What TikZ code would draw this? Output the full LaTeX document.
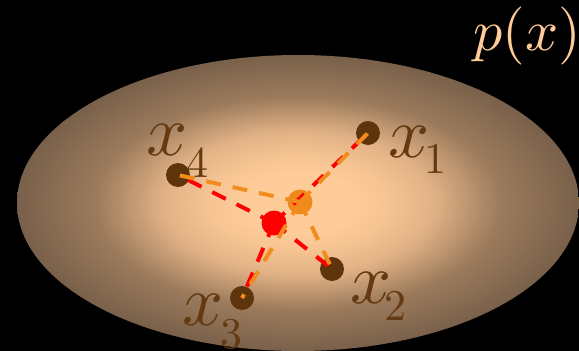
\documentclass[tikz,border=0pt]{standalone}
\usepackage{graphicx}
\definecolor{cA}{HTML}{FDCC99}
\definecolor{cB}{HTML}{F6C492}
\definecolor{cC}{HTML}{E2B286}
\definecolor{cD}{HTML}{9C7B5C}
\definecolor{cE}{HTML}{79604A}
\definecolor{dotbrown}{HTML}{5E340C}
\definecolor{labbrown}{HTML}{653A12}
\definecolor{dotorange}{HTML}{EE8A1C}
\definecolor{lineorange}{HTML}{F28C1E}
\definecolor{peach}{HTML}{FFCC99}
\pgfdeclareradialshading{ellshade}{\pgfpoint{0bp}{0bp}}{%
  color(0bp)=(cA); color(5bp)=(cA); color(8bp)=(cB); color(12bp)=(cC); color(18bp)=(cD); color(25bp)=(cE); color(50bp)=(cE)}
\newcommand\xlab[3]{\scalebox{7.2}{$x$}\kern#3\raisebox{-#2}{\scalebox{4.4}{#1}}}
\tikzset{
  pt/.style={circle, fill=dotbrown, minimum size=24pt, inner sep=0pt},
  cpt/.style={circle, minimum size=25pt, inner sep=0pt},
  lab/.style={anchor=base west, inner sep=0pt, text=labbrown, font=\normalsize},
  rdash/.style={draw=red, line width=4pt, dash pattern=on 15pt off 12pt},
  odash/.style={draw=lineorange, line width=4pt, dash pattern=on 15pt off 12pt}
}
\begin{document}
\begin{tikzpicture}[x=1pt,y=-1pt]
\useasboundingbox (0,0) rectangle (579,351);
\fill[black] (0,0) rectangle (579,351);
\shade[shading=ellshade] (298,203) ellipse [x radius=281pt, y radius=148pt];
% points
\node[pt] (x1) at (368,133) {};
\node[pt] (x2) at (332,269) {};
\node[pt] (x3) at (242,298) {};
\node[pt] (x4) at (178,175) {};
\node[cpt, fill=dotorange] (o) at (300,202) {};
\node[cpt, fill=red] (r) at (274,223) {};
% connectors
\foreach \t in {x1,x2,x3,x4} \draw[rdash] (r.center) -- (\t.center);
\foreach \t in {x1,x2,x3,x4} \draw[odash] (o.center) -- (\t.center);
% labels
\node[lab] (l1) at (388,157) {\xlab{1}{16pt}{-5pt}};
\node[lab] (l2) at (350,303) {\xlab{2}{17pt}{-7pt}};
\node[lab] (l3) at (182,325) {\xlab{3}{23pt}{-3pt}};
\node[lab] (l4) at (146,155) {\xlab{4}{22pt}{-1pt}};
\node[anchor=base east, inner sep=0pt, text=peach] (px) at (581,50) {\scalebox{5.8}{$p(x)$}};
\end{tikzpicture}
\end{document}
